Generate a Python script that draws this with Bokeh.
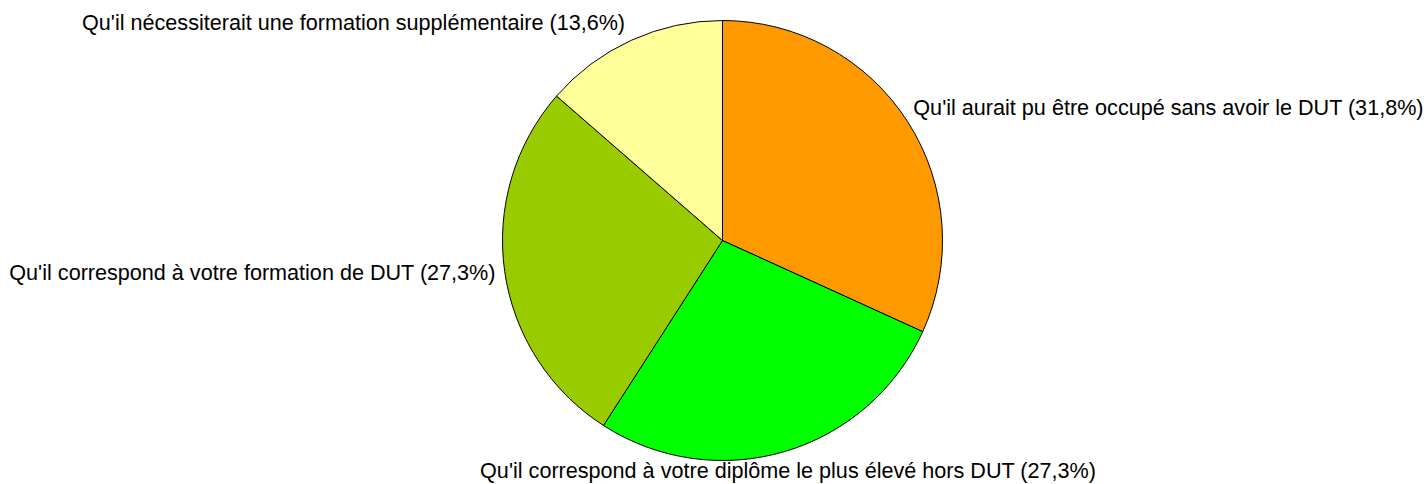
import math
from bokeh.plotting import figure
from bokeh.models import Range1d, ColumnDataSource
from bokeh.core.properties import value
from bokeh.embed import file_html
from bokeh.resources import INLINE

# ---- data ----
categories = [
    "Qu'il aurait pu être occupé sans avoir le DUT",
    "Qu'il correspond à votre diplôme le plus élevé hors DUT",
    "Qu'il correspond à votre formation de DUT",
    "Qu'il nécessiterait une formation supplémentaire",
]
percents = [31.8, 27.3, 27.3, 13.6]
colors = ["#FF9900", "#00FF00", "#99CC00", "#FFFF99"]

# ---- layout (pixel-space coordinates, y downward negated) ----
W, H = 1426, 484
CX, CY = 722, -240
R = 220
R_LABEL = 240
# small label nudges (pixels) per slice
NUDGE_X = [-11, -2, 11, 2]
NUDGE_Y = [3.5, 0, 1.5, 0]

p = figure(width=W, height=H, output_backend="svg", toolbar_location=None,
           x_range=Range1d(0, W), y_range=Range1d(-H, 0),
           min_border=0, outline_line_color=None, background_fill_color="white",
           border_fill_color="white")
p.axis.visible = False
p.xgrid.visible = False
p.ygrid.visible = False

total = sum(percents)
starts, ends, lx, ly, ltxt, lalign = [], [], [], [], [], []
cum = 0.0
for i, (cat, v) in enumerate(zip(categories, percents)):
    a0 = math.pi / 2 - 2 * math.pi * cum / total
    cum += v
    a1 = math.pi / 2 - 2 * math.pi * cum / total
    starts.append(a0)
    ends.append(a1)
    mid = (a0 + a1) / 2
    c, s = math.cos(mid), math.sin(mid)
    lx.append(CX + R_LABEL * c + NUDGE_X[i])
    ly.append(CY + R_LABEL * s + NUDGE_Y[i])
    ltxt.append(f"{cat} ({v:.1f}%)".replace(".", ","))
    lalign.append("left" if c > 0.35 else ("right" if c < -0.35 else "center"))

src = ColumnDataSource(dict(start=starts, end=ends, color=colors))
p.wedge(x=CX, y=CY, radius=R, start_angle="start", end_angle="end",
        direction="clock", fill_color="color", line_color="black",
        line_width=1, source=src)

lsrc = ColumnDataSource(dict(x=lx, y=ly, text=ltxt, align=lalign))
p.text(x="x", y="y", text="text", text_align="align", text_baseline="middle",
       text_font=value("Liberation Sans"), text_font_size="21.6px",
       text_color="black", source=lsrc)

open("out.html", "w").write(file_html(p, INLINE))
